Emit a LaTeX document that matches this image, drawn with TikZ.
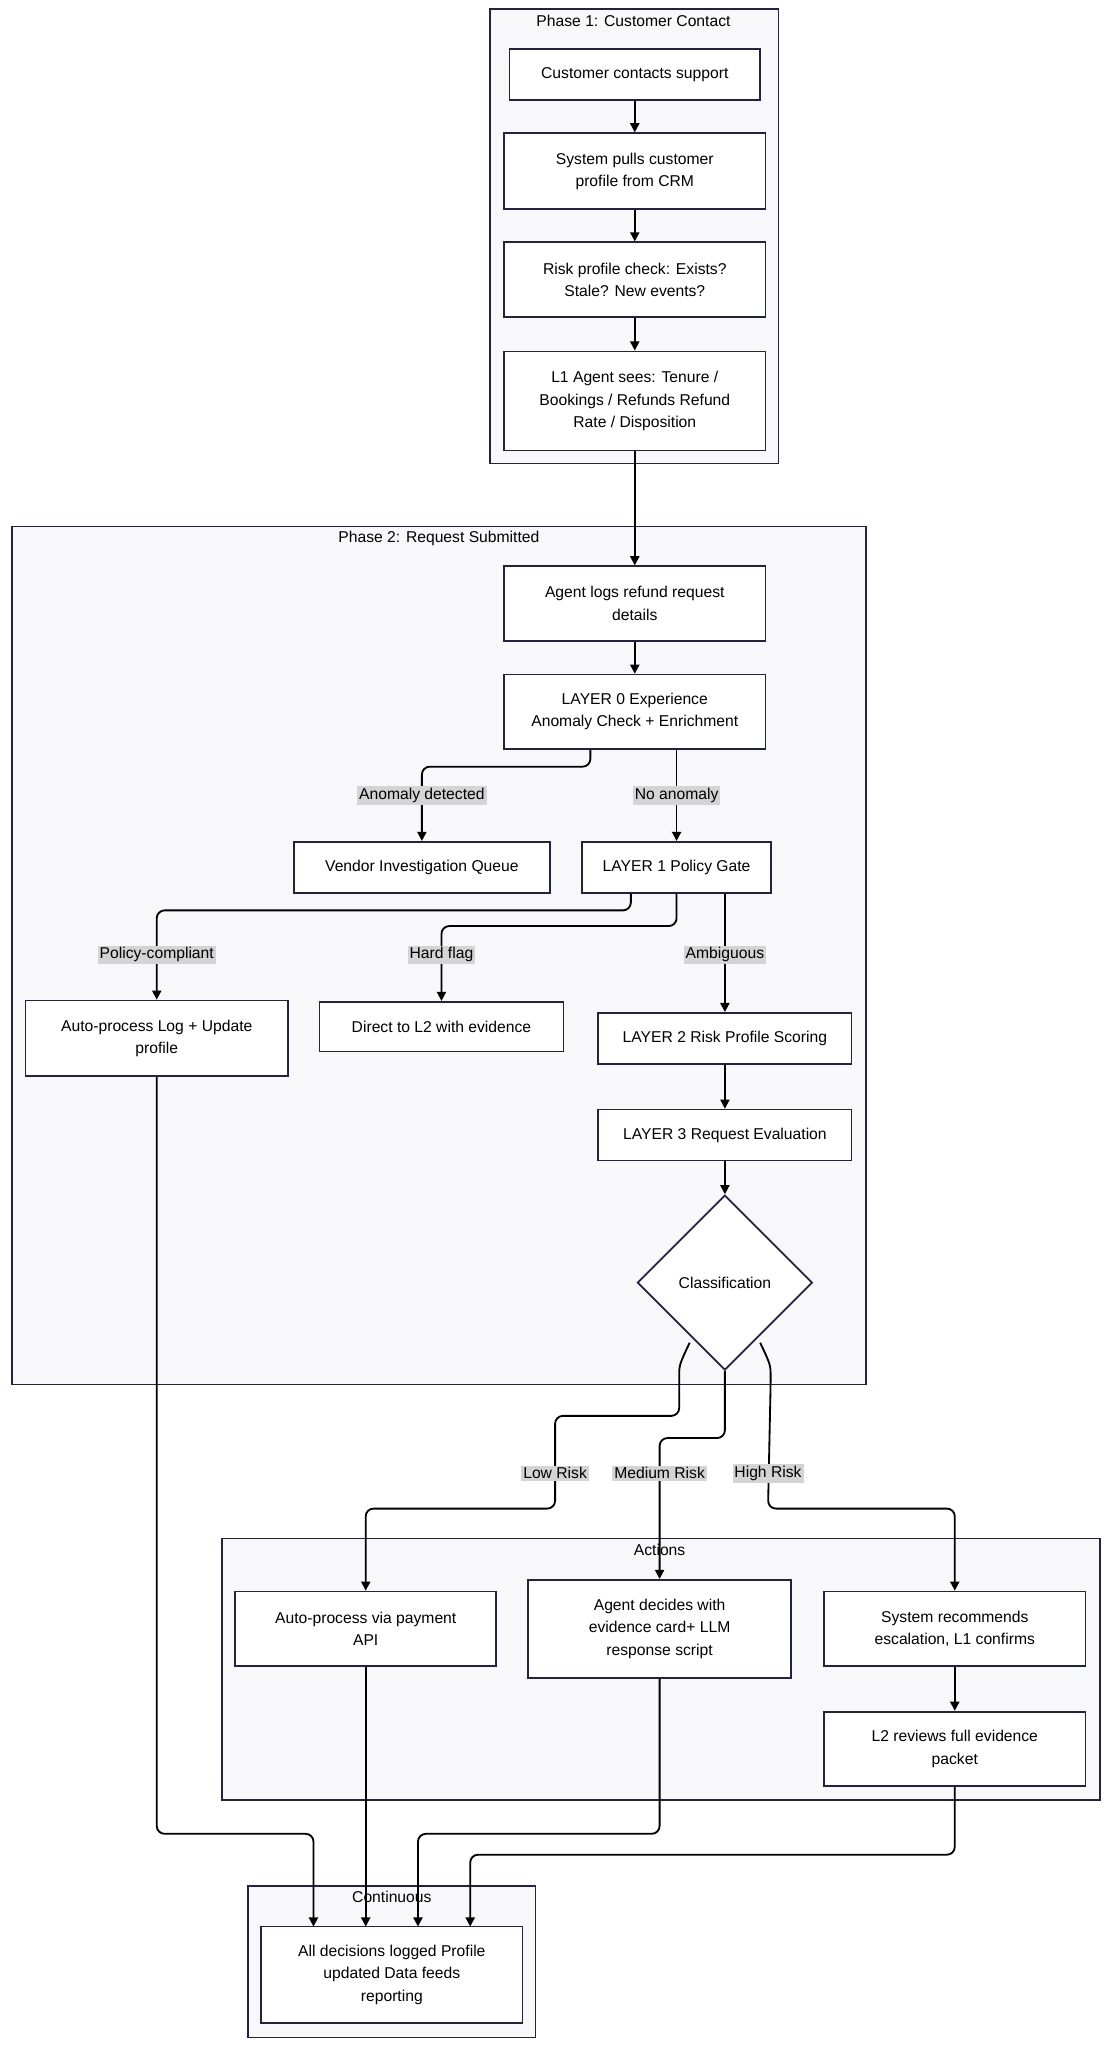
\documentclass[tikz,border=0pt]{standalone}
\usepackage{fontspec}
\setmainfont{Liberation Sans}
\usetikzlibrary{shapes.geometric,arrows.meta}
\definecolor{bord}{HTML}{222244}
\definecolor{grp}{HTML}{F8F8FB}
\definecolor{lab}{HTML}{D4D4D4}
\begin{document}
\begin{tikzpicture}[x=1pt,y=-1pt,font=\fontsize{12}{17}\selectfont,
  box/.style={draw=bord,line width=1.3pt,fill=white,align=center,inner sep=0},
  grp/.style={draw=bord,line width=1.2pt,fill=grp},
  ttl/.style={inner sep=1pt},
  ar/.style={draw=black,line width=1.4pt,-{Triangle[length=7pt,width=7pt]},rounded corners=6pt},
  lb/.style={fill=lab,inner sep=1.5pt,font=\fontsize{12}{14}\selectfont}]
\useasboundingbox (0,0) rectangle (850,1568);
% groups
\draw[grp] (375,7) rectangle (596,355);
\node[ttl] (t1) at (485,16) {Phase 1: Customer Contact};
\draw[grp] (9,403) rectangle (663,1060);
\node[ttl] (t2) at (336,412) {Phase 2: Request Submitted};
\draw[grp] (170,1178) rectangle (842,1378);
\node[ttl] (t3) at (505,1187) {Actions};
\draw[grp] (190,1444) rectangle (410,1560);
\node[ttl] (t4) at (300,1452) {Continuous};
% nodes
\node[box,minimum width=192,minimum height=39] (n1) at (486,57) {Customer contacts support};
\node[box,minimum width=200,minimum height=58] (n2) at (486,131) {System pulls customer\\profile from CRM};
\node[box,minimum width=200,minimum height=57] (n3) at (486,214) {Risk profile check: Exists?\\Stale? New events?};
\node[box,minimum width=200,minimum height=76] (n4) at (486,307) {L1 Agent sees: Tenure /\\Bookings / Refunds Refund\\Rate / Disposition};
\node[box,minimum width=200,minimum height=57] (n5) at (486,462) {Agent logs refund request\\details};
\node[box,minimum width=200,minimum height=57] (n6) at (486,545) {LAYER 0 Experience\\Anomaly Check + Enrichment};
\node[box,minimum width=196,minimum height=39] (ven) at (323,664) {Vendor Investigation Queue};
\node[box,minimum width=145,minimum height=39] (l1) at (518,664) {LAYER 1 Policy Gate};
\node[box,minimum width=201,minimum height=58] (auto) at (120,795) {Auto-process Log + Update\\profile};
\node[box,minimum width=187,minimum height=38] (dir) at (338,786) {Direct to L2 with evidence};
\node[box,minimum width=194,minimum height=39] (l2) at (555,795) {LAYER 2 Risk Profile Scoring};
\node[box,minimum width=194,minimum height=39] (l3) at (555,869) {LAYER 3 Request Evaluation};
\node[draw=bord,line width=1.3pt,fill=white,diamond,minimum width=134,minimum height=134,inner sep=0] (cl) at (555,982) {Classification};
\node[box,minimum width=200,minimum height=57] (a1) at (280,1247) {Auto-process via payment\\API};
\node[box,minimum width=201,minimum height=75] (a2) at (505,1247) {Agent decides with\\evidence card+ LLM\\response script};
\node[box,minimum width=200,minimum height=57] (a3) at (731,1247) {System recommends\\escalation, L1 confirms};
\node[box,minimum width=200,minimum height=57] (a4) at (731,1339) {L2 reviews full evidence\\packet};
\node[box,minimum width=200,minimum height=74] (fin) at (300,1512) {All decisions logged Profile\\updated Data feeds\\reporting};
% edges
\draw[ar] (n1) -- (n2);
\draw[ar] (n2) -- (n3);
\draw[ar] (n3) -- (n4);
\draw[ar] (n4) -- (n5);
\draw[ar] (n5) -- (n6);
\draw[ar] ([xshift=-34pt]n6.south) -- (452,587) -- (323,587) -- (ven.north);
\node[lb] (la) at (323,609) {Anomaly detected};
\draw[ar] ([xshift=32pt]n6.south) -- (l1.north);
\node[lb] (lb1) at (518,609) {No anomaly};
\draw[ar] ([xshift=-35pt]l1.south) -- (483,697) -- (120,697) -- (auto.north);
\node[lb] (lc) at (120,731) {Policy-compliant};
\draw[ar] (l1.south) -- (518,709) -- (338,709) -- (dir.north);
\node[lb] (ld) at (338,731) {Hard flag};
\draw[ar] ([xshift=37pt]l1.south) -- (l2.north);
\node[lb] (le) at (555,731) {Ambiguous};
\draw[ar] (l2) -- (l3);
\draw[ar] (l3) -- (cl.north);
\draw[ar] (528,1028) .. controls (520,1045) .. (520,1060) -- (520,1084) -- (425,1084) -- (425,1155) -- (280,1155) -- (a1.north);
\node[lb] (lf) at (425,1128) {Low Risk};
\draw[ar] (cl.south) -- (555,1101) -- (505,1101) -- (a2.north);
\node[lb] (lg) at (505,1128) {Medium Risk};
\draw[ar] (582,1028) .. controls (590,1045) .. (590,1060) -- (588,1155) -- (731,1155) -- (a3.north);
\node[lb] (lh) at (588,1128) {High Risk};
\draw[ar] (a3) -- (a4);
\draw[ar] (auto.south) -- (120,1404) -- (240,1404) -- (240,1475);
\draw[ar] (a1.south) -- (280,1475);
\draw[ar] (a2.south) -- (505,1404) -- (320,1404) -- (320,1475);
\draw[ar] (a4.south) -- (731,1420) -- (360,1420) -- (360,1475);
\end{tikzpicture}
\end{document}
